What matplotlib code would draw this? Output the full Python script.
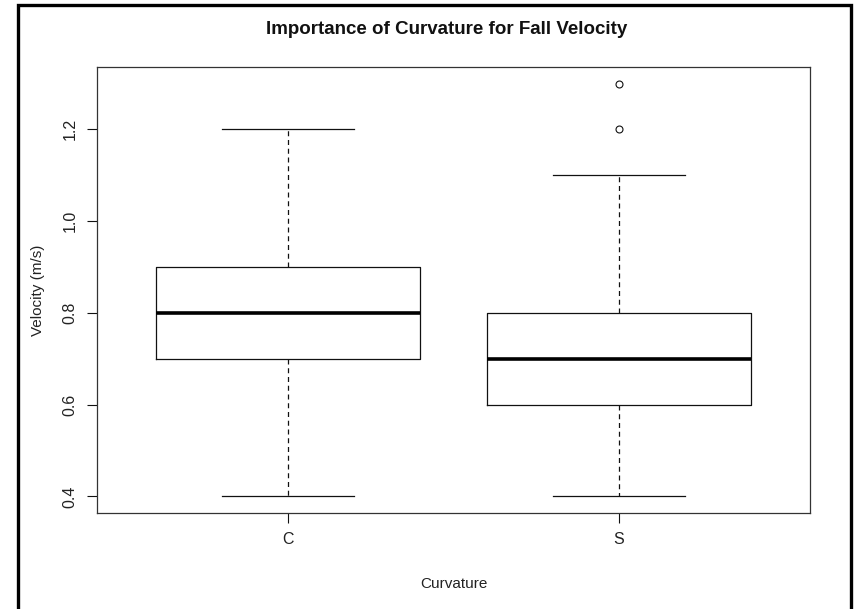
import matplotlib.pyplot as plt
from matplotlib.patches import Rectangle

plt.rcParams['font.family'] = ['Liberation Sans', 'DejaVu Sans']

# box stats
groups = ['C', 'S']
whisker_low = [0.4, 0.4]
q1 = [0.7, 0.6]
medians = [0.8, 0.7]
q3 = [0.9, 0.8]
whisker_high = [1.2, 1.1]
outliers = [[], [1.2, 1.3]]
y_ticks = [0.4, 0.6, 0.8, 1.0, 1.2]

stats = []
for i, name in enumerate(groups):
    stats.append({
        'label': name,
        'whislo': whisker_low[i],
        'q1': q1[i],
        'med': medians[i],
        'q3': q3[i],
        'whishi': whisker_high[i],
        'fliers': outliers[i],
    })

fig = plt.figure(figsize=(8.55, 6.09), dpi=100)
ax = fig.add_axes([97 / 855, 1 - 513 / 609, (810 - 97) / 855, (513 - 67) / 609])

line_col = '#111111'
ax.bxp(stats, positions=[1, 2], widths=0.8, patch_artist=False,
       boxprops=dict(color=line_col, linewidth=0.9),
       medianprops=dict(color='black', linewidth=2.6, solid_capstyle='butt'),
       whiskerprops=dict(color=line_col, linewidth=0.9, linestyle=(0, (4, 3))),
       capprops=dict(color=line_col, linewidth=0.9),
       capwidths=0.4,
       flierprops=dict(marker='o', markerfacecolor='none', markeredgecolor=line_col,
                       markersize=5, markeredgewidth=0.8))

# R style 4% padding
ax.set_xlim(0.42, 2.58)
ax.set_ylim(0.364, 1.336)
ax.set_yticks(y_ticks)
ax.set_yticklabels([f'{t:.1f}' for t in y_ticks], rotation=90, va='center')
ax.set_xticks([1, 2])
ax.set_xticklabels(groups)
ax.tick_params(axis='both', length=7, width=0.8, labelsize=11.5, color=line_col,
               labelcolor='#222222', pad=7)
for sp in ax.spines.values():
    sp.set_color('#333333')
    sp.set_linewidth(0.9)

ax.set_xlabel('Curvature', fontsize=11, color='#222222', labelpad=21)
ax.set_ylabel('Velocity (m/s)', fontsize=11, color='#222222', labelpad=13)
fig.text(447 / 855, 1 - 30 / 609, 'Importance of Curvature for Fall Velocity',
         ha='center', va='center', fontsize=13.5, fontweight='bold', color='#111111')

# outer frame around the picture
fig.patches.append(Rectangle((17.5 / 855, -0.05), (851 - 17.5) / 855, 1.05 - 5 / 609,
                             transform=fig.transFigure, fill=False,
                             edgecolor='black', linewidth=2.4))

fig.savefig('out.png', dpi=100)
